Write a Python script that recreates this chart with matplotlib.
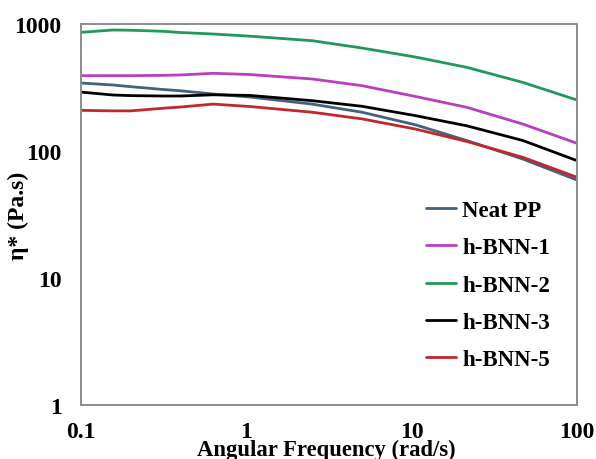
import matplotlib
matplotlib.use("Agg")
import matplotlib.pyplot as plt
from matplotlib.ticker import FixedLocator, FixedFormatter, NullLocator

# Angular frequency (rad/s)
omega = [0.1, 0.156, 0.2, 0.313, 0.4, 0.63, 1.05, 2.5, 5.0, 10.5, 21.5, 47.0, 100.0]

# Complex viscosity eta* (Pa.s)
neat_pp = [343, 331, 321, 305, 298, 281, 266, 234, 202, 161, 121, 86.5, 59.1]
hbnn_1 = [392, 392, 392, 394, 397, 409, 400, 369, 327, 269, 221, 163, 115]
hbnn_2 = [860, 897, 893, 876, 857, 834, 802, 739, 647, 550, 456, 347, 252]
hbnn_3 = [291, 276, 273, 271, 271, 277, 274, 249, 225, 190, 158, 121, 84]
hbnn_5 = [209, 207, 207, 217, 222, 234, 224, 202, 179, 149, 119, 89.2, 62.1]

series_labels = ["Neat PP", "h-BNN-1", "h-BNN-2", "h-BNN-3", "h-BNN-5"]
series_colors = ["#44617f", "#b93fbf", "#22995a", "#000000", "#c0282c"]

x_ticks = [0.1, 1, 10, 100]
x_tick_labels = ["0.1", "1", "10", "100"]
y_ticks = [1, 10, 100, 1000]
y_tick_labels = ["1", "10", "100", "1000"]

plt.rcParams["font.family"] = ["Liberation Serif", "DejaVu Serif"]
plt.rcParams["font.weight"] = "bold"

W, H = 596, 460
fig = plt.figure(figsize=(W / 100, H / 100), dpi=100)
ax_l, ax_r, ax_t, ax_b = 81, 577, 25, 406
ax = fig.add_axes([ax_l / W, (H - ax_b) / H, (ax_r - ax_l) / W, (ax_b - ax_t) / H])

for vals, lab, col in zip([neat_pp, hbnn_1, hbnn_2, hbnn_3, hbnn_5],
                          series_labels, series_colors):
    ax.plot(omega, vals, color=col, lw=2.0, label=lab, solid_capstyle="round")

ax.set_xscale("log")
ax.set_yscale("log")
ax.set_xlim(0.1, 100)
ax.set_ylim(1, 1000)

ax.xaxis.set_major_locator(FixedLocator(x_ticks))
ax.xaxis.set_major_formatter(FixedFormatter(x_tick_labels))
ax.yaxis.set_major_locator(FixedLocator(y_ticks))
ax.yaxis.set_major_formatter(FixedFormatter(y_tick_labels))
ax.xaxis.set_minor_locator(NullLocator())
ax.yaxis.set_minor_locator(NullLocator())

ax.tick_params(axis="both", length=0, labelsize=17)
ax.tick_params(axis="x", pad=11.5)
ax.tick_params(axis="y", pad=14)
for t in ax.get_xticklabels() + ax.get_yticklabels():
    t.set_fontweight("bold")

for sp in ax.spines.values():
    sp.set_color("#8c8c8c")
    sp.set_linewidth(1.4)

ax_w = ax_r - ax_l
ax_h = ax_b - ax_t
ax.set_xlabel("Angular Frequency (rad/s)", fontsize=16.3, fontweight="bold")
ax.xaxis.set_label_coords((326 - ax_l) / ax_w, -(456 - ax_b) / ax_h)
ax.xaxis.label.set_va("baseline")
ax.set_ylabel("η* (Pa.s)", fontsize=17, fontweight="bold")
ax.yaxis.set_label_coords(-(ax_l - 29) / ax_w, 0.5)

leg = ax.legend(loc="upper left",
                bbox_to_anchor=((426 - ax_l) / ax_w, (ax_b - 201) / ax_h),
                bbox_transform=ax.transAxes, frameon=False, fontsize=16.5,
                handlelength=1.3, handletextpad=0.28, labelspacing=0.71,
                borderaxespad=0, borderpad=0)
for t in leg.get_texts():
    t.set_fontweight("bold")

fig.savefig("out.png", dpi=100)
